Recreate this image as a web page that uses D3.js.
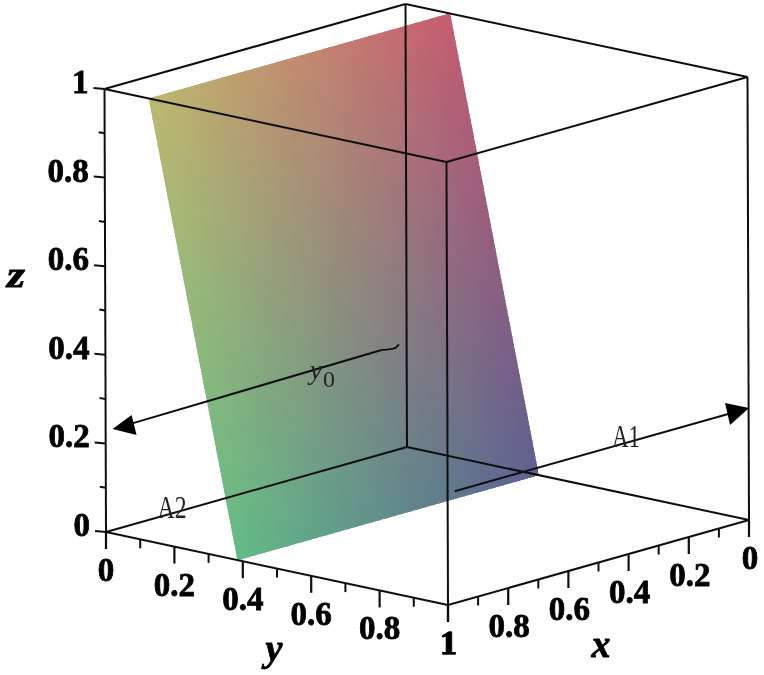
<!DOCTYPE html>
<html><head><meta charset="utf-8">
<script src="https://cdn.jsdelivr.net/npm/d3@7"></script>
<style>html,body{margin:0;background:#fff}svg{display:block}</style></head>
<body><svg id="c" width="764" height="675"></svg>
<script>
const majorTicks=[0,0.2,0.4,0.6,0.8,1];
const minorTicks=[0.1,0.3,0.5,0.7,0.9];
const tickLabels=["0","0.2","0.4","0.6","0.8","1"];
const planeX=[0,1];
const planeZ=[0,1];
const planeY=[0.385,0.13];
const colorLowX0="#5e5f90";
const colorLowX1="#62bb87";
const colorHighX0="#c65c70";
const colorHighX1="#bcb96f";
const arrowA1X=[0.2276,-0.75], arrowA1Y=0.34;
const arrowY0X=[0.026,0.035,0.083,0.977], arrowY0Z=[0.237,0.228,0.235,0.228];

const sx=d3.scaleLinear([0,1],[0,-301]), sxv=d3.scaleLinear([0,1],[0,85]);
const sy=d3.scaleLinear([0,1],[0,342]), syv=d3.scaleLinear([0,1],[0,73]);
const sz=d3.scaleLinear([0,1],[0,-1.5]), szv=d3.scaleLinear([0,1],[0,-443]);
const P=(x,y,z)=>[407+sx(x)+sy(y)+sz(z),447+sxv(x)+syv(y)+szv(z)];

const svg=d3.select("#c");
const defs=svg.append("defs");
defs.append("filter").attr("id","soft").append("feGaussianBlur").attr("stdDeviation",0.45);
const line=d3.line();

// plane
const N=70,steps=d3.range(N);
const gPlane=svg.append("g").attr("shape-rendering","crispEdges");
const yAt=d3.scaleLinear(planeZ,planeY);
const cells=[];
steps.forEach(i=>steps.forEach(j=>cells.push([i/N,(i+1)/N,j/N,(j+1)/N])));
const low=d3.interpolateRgb(colorLowX0,colorLowX1), high=d3.interpolateRgb(colorHighX0,colorHighX1);
gPlane.selectAll("path").data(cells).join("path")
 .attr("d",([a,b,c,d])=>line([P(a,yAt(c),c),P(b,yAt(c),c),P(b,yAt(d),d),P(a,yAt(d),d)])+"Z")
 .each(function([a,b,c,d]){
   const mx=(a+b)/2,mz=(c+d)/2;
   const col=d3.interpolateRgb(low(mx),high(mx))(mz);
   d3.select(this).attr("fill",col).attr("stroke",col).attr("stroke-width",0.6);
 });

const g=svg.append("g").attr("filter","url(#soft)");
const stroke="#111";
const seg=(a,b,w=2)=>g.append("path").attr("d",line([a,b])).attr("fill","none").attr("stroke",stroke).attr("stroke-width",w);
// box edges
[[[0,0,0],[1,0,0]],[[0,0,0],[0,1,0]],[[1,0,0],[1,1,0]],[[0,1,0],[1,1,0]],
 [[0,0,1],[1,0,1]],[[0,0,1],[0,1,1]],[[1,0,1],[1,1,1]],[[0,1,1],[1,1,1]],
 [[0,0,0],[0,0,1]],[[1,0,0],[1,0,1]],[[0,1,0],[0,1,1]],[[1,1,0],[1,1,1]]]
 .forEach(([a,b])=>seg(P(...a),P(...b)));

// ticks
const tickLenMajor=17,tickLenMinor=9,zMajor=11,zMinor=6;
majorTicks.forEach(t=>{
  let p=P(1,t,0); seg(p,[p[0],p[1]+tickLenMajor],2.2);
  p=P(t,1,0); seg(p,[p[0],p[1]+tickLenMajor],2.2);
  p=P(1,0,t); seg(p,[p[0]-zMajor,p[1]-1],2);
});
minorTicks.forEach(t=>{
  let p=P(1,t,0); seg(p,[p[0],p[1]+tickLenMinor],2);
  p=P(t,1,0); seg(p,[p[0],p[1]+tickLenMinor],2);
  p=P(1,0,t); seg(p,[p[0]-zMinor,p[1]-1],2);
});

// arrows
const head=(tip,a,b)=>g.append("path").attr("d",line([tip,a,b])+"Z").attr("fill","#000");
const a1=arrowA1X.map(x=>P(x,arrowA1Y,0));
seg(a1[0],[a1[1][0]-12,a1[1][1]+3.4],2);
head(a1[1],[a1[1][0]-24,a1[1][1]-5],[a1[1][0]-19,a1[1][1]+17]);
const y0pts=arrowY0X.map((x,i)=>P(x,0,arrowY0Z[i]));
g.append("path").attr("d",d3.line().curve(d3.curveBasis)([y0pts[0],y0pts[1],y0pts[2]])).attr("fill","none").attr("stroke",stroke).attr("stroke-width",1.8);
seg(y0pts[2],[y0pts[3][0]+12,y0pts[3][1]-3.4],2);
const tip=y0pts[3];
head(tip,[tip[0]+19,tip[1]-14],[tip[0]+24,tip[1]+6]);

// labels
const T=(x,y,s,fs,opts={})=>{
 const t=g.append("text").attr("x",x).attr("y",y).text(s)
  .attr("font-family",opts.family||"'Liberation Serif',serif").attr("font-size",fs)
  .attr("font-weight",opts.weight||"bold").attr("font-style",opts.style||"normal")
  .attr("fill",opts.fill||"#000").attr("text-anchor",opts.anchor||"middle");
 if(opts.len) t.attr("textLength",opts.len).attr("lengthAdjust","spacingAndGlyphs");
 return t;
};
const bolden=t=>t.attr("stroke","#000").attr("stroke-width",.8);
majorTicks.forEach((t,i)=>{
  let p=P(1,0,t);
  bolden(T(p[0]-16,p[1]+4,tickLabels[i],33,{anchor:"end"}));
  p=P(1,t,0);
  bolden(T(p[0],p[1]+49,tickLabels[i],33));
  p=P(t,1,0);
  bolden(T(p[0]+1,p[1]+49,tickLabels[i],33));
});
bolden(T(16,287,"z",36,{style:"italic",len:18}));
bolden(T(274,661,"y",38,{style:"italic"}));
bolden(T(601,657,"x",38,{style:"italic"}));
const thin={weight:"normal",fill:"#222"};
T(172,518,"A2",32,{...thin,len:29});
T(626,447,"A1",32,{...thin,len:28});
T(316,379,"y",28,{...thin,style:"italic"});
T(329,387,"0",24,{...thin,len:12});
</script></body></html>
